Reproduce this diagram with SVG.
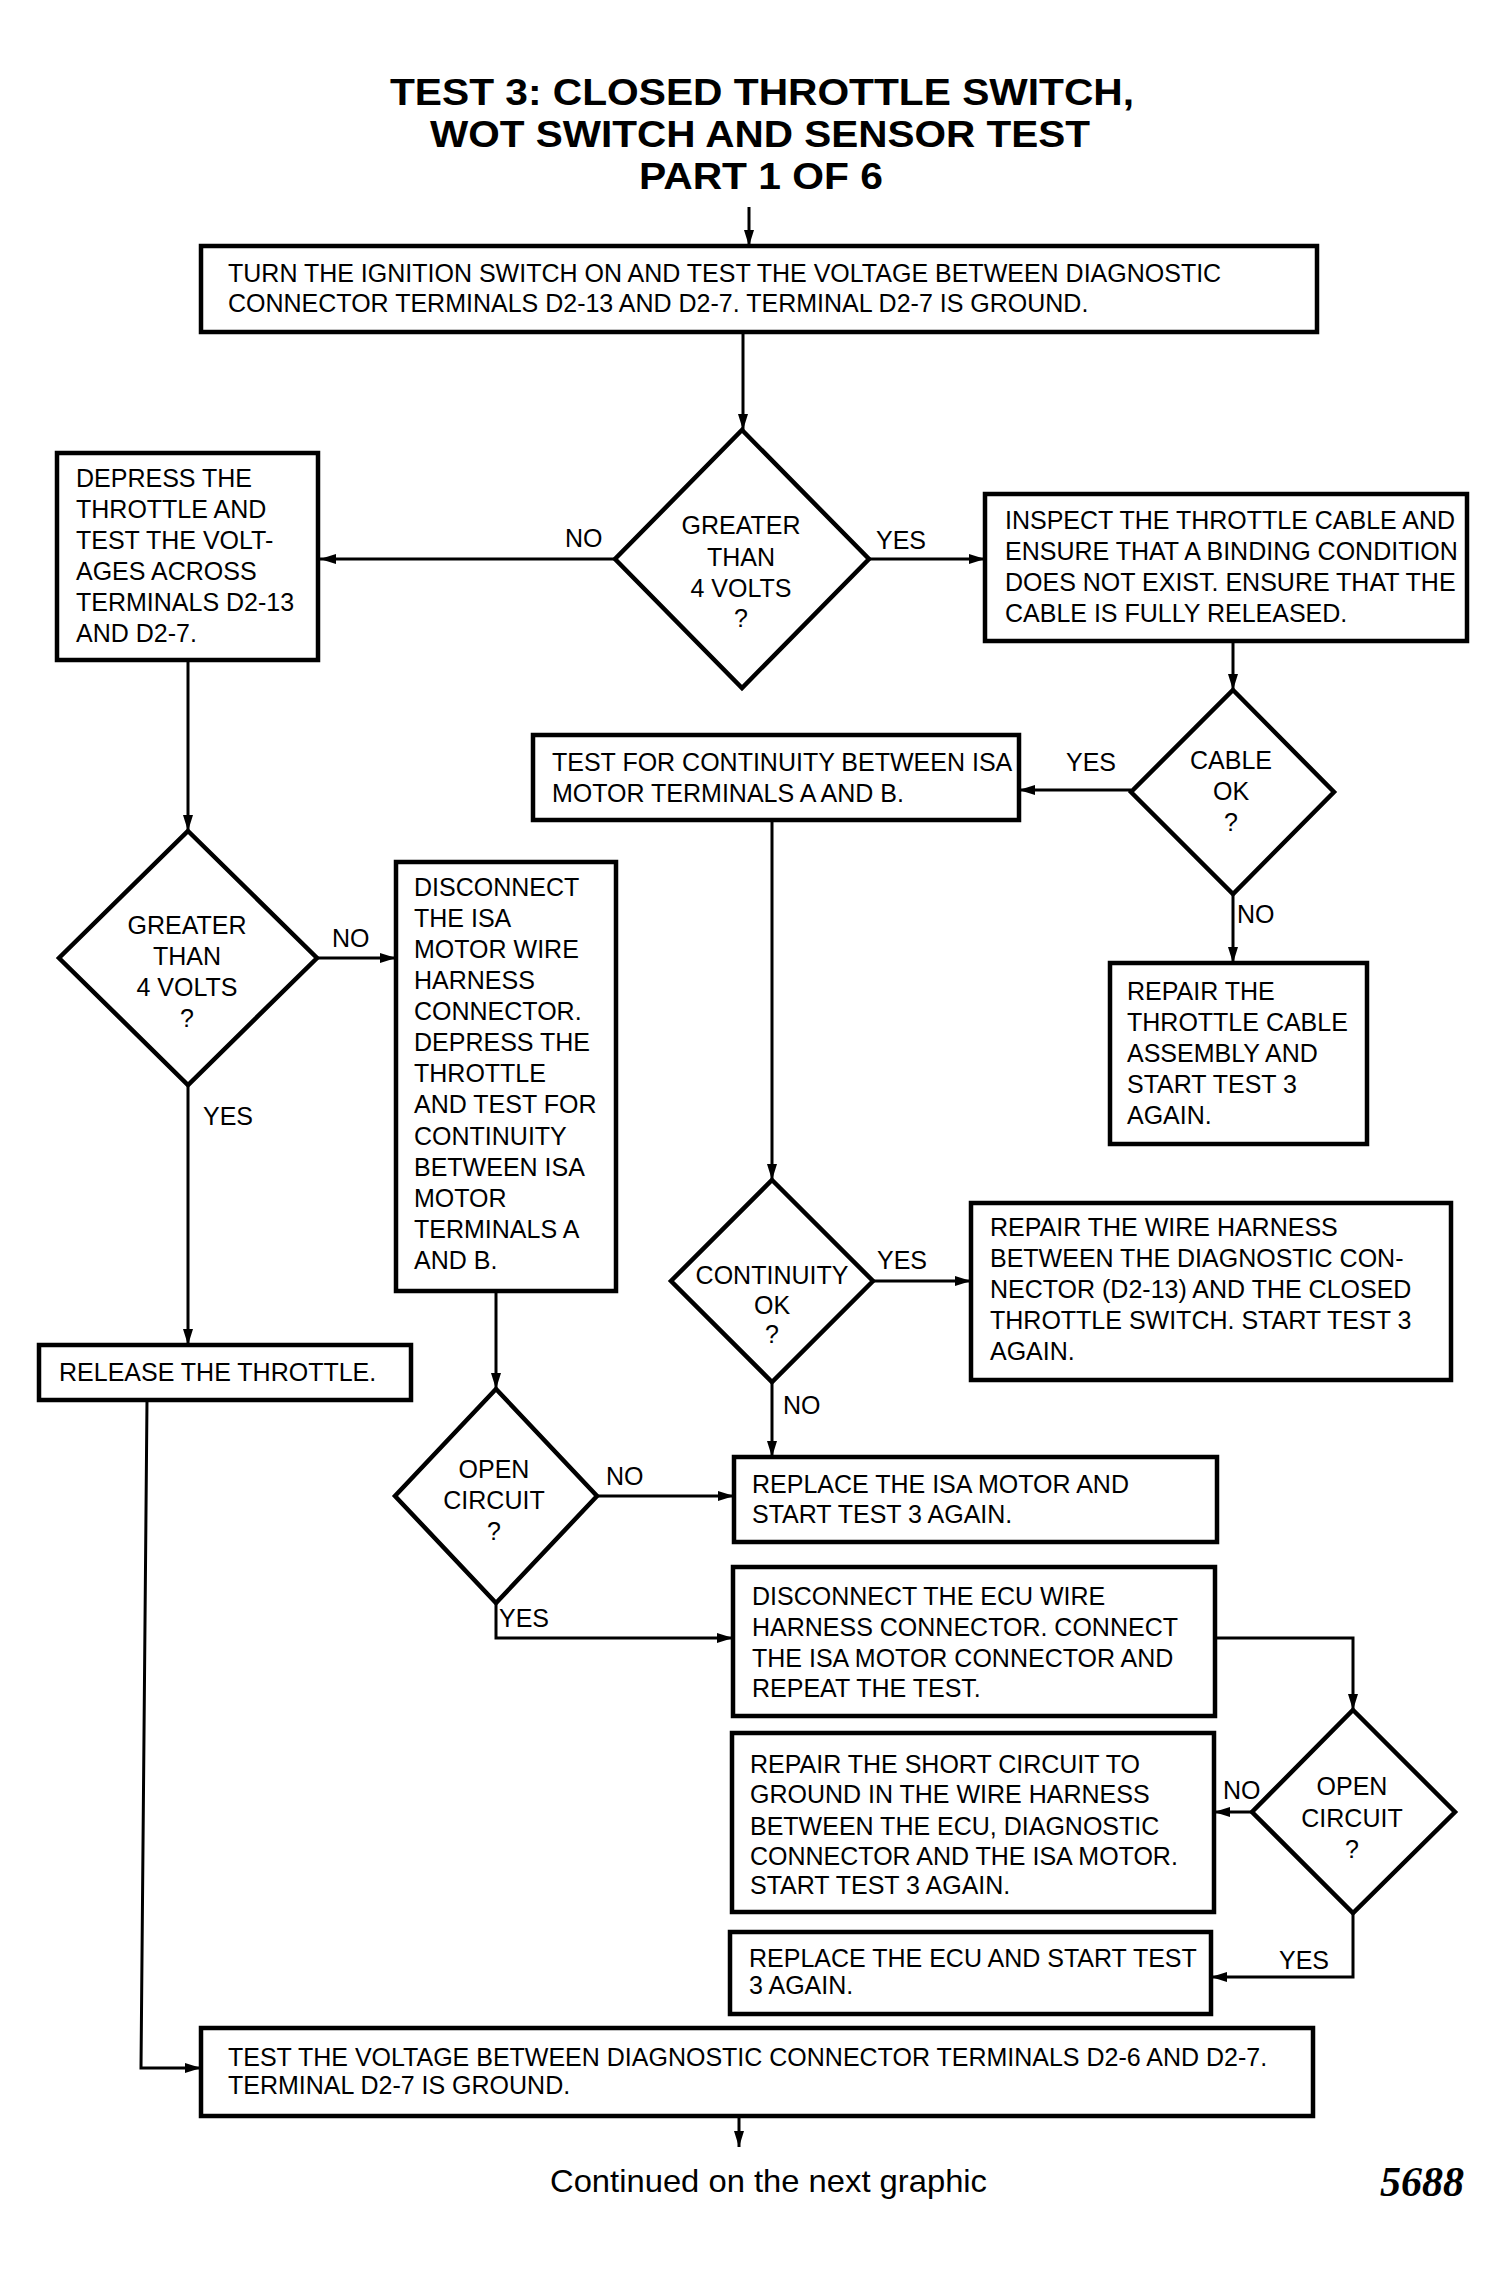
<svg xmlns="http://www.w3.org/2000/svg" width="1507" height="2273" viewBox="0 0 1507 2273">
<style>
.bx{fill:#fff;stroke:#000;stroke-width:4.5}
.dm{fill:#fff;stroke:#000;stroke-width:4.5;stroke-linejoin:miter}
.cn{fill:none;stroke:#000;stroke-width:3}
.t{font-family:"Liberation Sans",Arial,sans-serif;font-size:25px;fill:#000}
.c{text-anchor:middle}
.ttl{font-family:"Liberation Sans",Arial,sans-serif;font-weight:bold;font-size:37.5px;fill:#000;text-anchor:middle}
</style>
<defs>
<marker id="ah" markerUnits="userSpaceOnUse" markerWidth="16" markerHeight="10" refX="16" refY="5" orient="auto">
<path d="M0,0 L16,5 L0,10 Z" fill="#000"/>
</marker>
</defs>
<rect width="1507" height="2273" fill="#fff"/>
<g id="title">
<text class="ttl" x="762" y="105" textLength="744" lengthAdjust="spacingAndGlyphs">TEST 3: CLOSED THROTTLE SWITCH,</text>
<text class="ttl" x="760" y="147" textLength="660" lengthAdjust="spacingAndGlyphs">WOT SWITCH AND SENSOR TEST</text>
<text class="ttl" x="761" y="189" textLength="244" lengthAdjust="spacingAndGlyphs">PART 1 OF 6</text>
</g>
<g id="connectors">
<line class="cn" x1="749" y1="207" x2="749" y2="246" marker-end="url(#ah)"/>
<line class="cn" x1="743" y1="332" x2="743" y2="430" marker-end="url(#ah)"/>
<line class="cn" x1="615" y1="559" x2="320" y2="559" marker-end="url(#ah)"/>
<line class="cn" x1="869" y1="559" x2="985" y2="559" marker-end="url(#ah)"/>
<line class="cn" x1="188" y1="660" x2="188" y2="831" marker-end="url(#ah)"/>
<line class="cn" x1="1233" y1="641" x2="1233" y2="690" marker-end="url(#ah)"/>
<line class="cn" x1="1131" y1="790" x2="1019" y2="790" marker-end="url(#ah)"/>
<line class="cn" x1="1233" y1="894" x2="1233" y2="963" marker-end="url(#ah)"/>
<line class="cn" x1="772" y1="820" x2="772" y2="1180" marker-end="url(#ah)"/>
<line class="cn" x1="317" y1="958" x2="396" y2="958" marker-end="url(#ah)"/>
<line class="cn" x1="188" y1="1085" x2="188" y2="1345" marker-end="url(#ah)"/>
<line class="cn" x1="496" y1="1291" x2="496" y2="1389" marker-end="url(#ah)"/>
<line class="cn" x1="873" y1="1281" x2="971" y2="1281" marker-end="url(#ah)"/>
<line class="cn" x1="772" y1="1382" x2="772" y2="1457" marker-end="url(#ah)"/>
<line class="cn" x1="597" y1="1496" x2="734" y2="1496" marker-end="url(#ah)"/>
<polyline class="cn" points="496,1603 496,1638 733,1638" marker-end="url(#ah)"/>
<polyline class="cn" points="1215,1638 1353,1638 1353,1710" marker-end="url(#ah)"/>
<line class="cn" x1="1252" y1="1812" x2="1214" y2="1812" marker-end="url(#ah)"/>
<polyline class="cn" points="1353,1913 1353,1977 1211,1977" marker-end="url(#ah)"/>
<polyline class="cn" points="147,1400 141,2068 201,2068" marker-end="url(#ah)"/>
<line class="cn" x1="739" y1="2116" x2="739" y2="2147" marker-end="url(#ah)"/>
<text class="t" x="565" y="547">NO</text>
<text class="t" x="876" y="549">YES</text>
<text class="t" x="1066" y="771">YES</text>
<text class="t" x="1237" y="923">NO</text>
<text class="t" x="332" y="947">NO</text>
<text class="t" x="203" y="1125">YES</text>
<text class="t" x="877" y="1269">YES</text>
<text class="t" x="783" y="1414">NO</text>
<text class="t" x="606" y="1485">NO</text>
<text class="t" x="499" y="1627">YES</text>
<text class="t" x="1223" y="1799">NO</text>
<text class="t" x="1279" y="1969">YES</text>
</g>
<g id="n_start">
<rect class="bx" x="201" y="246" width="1116" height="86"/>
<text class="t" x="228" y="282">TURN THE IGNITION SWITCH ON AND TEST THE VOLTAGE BETWEEN DIAGNOSTIC</text>
<text class="t" x="228" y="312">CONNECTOR TERMINALS D2-13 AND D2-7. TERMINAL D2-7 IS GROUND.</text>
</g>
<g id="d_greater1">
<polygon class="dm" points="742,430 869,559 742,688 615,559"/>
<text class="t c" x="741" y="534">GREATER</text>
<text class="t c" x="741" y="566">THAN</text>
<text class="t c" x="741" y="597">4 VOLTS</text>
<text class="t c" x="741" y="627">?</text>
</g>
<g id="n_depress">
<rect class="bx" x="57" y="453" width="261" height="207"/>
<text class="t" x="76" y="487">DEPRESS THE</text>
<text class="t" x="76" y="518">THROTTLE AND</text>
<text class="t" x="76" y="549">TEST THE VOLT-</text>
<text class="t" x="76" y="580">AGES ACROSS</text>
<text class="t" x="76" y="611">TERMINALS D2-13</text>
<text class="t" x="76" y="642">AND D2-7.</text>
</g>
<g id="n_inspect">
<rect class="bx" x="985" y="494" width="482" height="147"/>
<text class="t" x="1005" y="529">INSPECT THE THROTTLE CABLE AND</text>
<text class="t" x="1005" y="560">ENSURE THAT A BINDING CONDITION</text>
<text class="t" x="1005" y="591">DOES NOT EXIST. ENSURE THAT THE</text>
<text class="t" x="1005" y="622">CABLE IS FULLY RELEASED.</text>
</g>
<g id="d_cable">
<polygon class="dm" points="1233,690 1334,792 1233,894 1131,792"/>
<text class="t c" x="1231" y="769">CABLE</text>
<text class="t c" x="1231" y="800">OK</text>
<text class="t c" x="1231" y="831">?</text>
</g>
<g id="n_testcont">
<rect class="bx" x="533" y="735" width="486" height="85"/>
<text class="t" x="552" y="771">TEST FOR CONTINUITY BETWEEN ISA</text>
<text class="t" x="552" y="802">MOTOR TERMINALS A AND B.</text>
</g>
<g id="n_repaircable">
<rect class="bx" x="1110" y="963" width="257" height="181"/>
<text class="t" x="1127" y="1000">REPAIR THE</text>
<text class="t" x="1127" y="1031">THROTTLE CABLE</text>
<text class="t" x="1127" y="1062">ASSEMBLY AND</text>
<text class="t" x="1127" y="1093">START TEST 3</text>
<text class="t" x="1127" y="1124">AGAIN.</text>
</g>
<g id="d_greater2">
<polygon class="dm" points="188,831 317,958 188,1085 59,958"/>
<text class="t c" x="187" y="934">GREATER</text>
<text class="t c" x="187" y="965">THAN</text>
<text class="t c" x="187" y="996">4 VOLTS</text>
<text class="t c" x="187" y="1027">?</text>
</g>
<g id="n_disconnectisa">
<rect class="bx" x="396" y="862" width="220" height="429"/>
<text class="t" x="414" y="896">DISCONNECT</text>
<text class="t" x="414" y="927">THE ISA</text>
<text class="t" x="414" y="958">MOTOR WIRE</text>
<text class="t" x="414" y="989">HARNESS</text>
<text class="t" x="414" y="1020">CONNECTOR.</text>
<text class="t" x="414" y="1051">DEPRESS THE</text>
<text class="t" x="414" y="1082">THROTTLE</text>
<text class="t" x="414" y="1113">AND TEST FOR</text>
<text class="t" x="414" y="1145">CONTINUITY</text>
<text class="t" x="414" y="1176">BETWEEN ISA</text>
<text class="t" x="414" y="1207">MOTOR</text>
<text class="t" x="414" y="1238">TERMINALS A</text>
<text class="t" x="414" y="1269">AND B.</text>
</g>
<g id="d_continuity">
<polygon class="dm" points="772,1180 873,1281 772,1382 671,1281"/>
<text class="t c" x="772" y="1284">CONTINUITY</text>
<text class="t c" x="772" y="1314">OK</text>
<text class="t c" x="772" y="1343">?</text>
</g>
<g id="n_repairwire">
<rect class="bx" x="971" y="1203" width="480" height="177"/>
<text class="t" x="990" y="1236">REPAIR THE WIRE HARNESS</text>
<text class="t" x="990" y="1267">BETWEEN THE DIAGNOSTIC CON-</text>
<text class="t" x="990" y="1298">NECTOR (D2-13) AND THE CLOSED</text>
<text class="t" x="990" y="1329">THROTTLE SWITCH. START TEST 3</text>
<text class="t" x="990" y="1360">AGAIN.</text>
</g>
<g id="n_release">
<rect class="bx" x="39" y="1345" width="372" height="55"/>
<text class="t" x="59" y="1381">RELEASE THE THROTTLE.</text>
</g>
<g id="d_open1">
<polygon class="dm" points="496,1389 597,1496 496,1603 395,1496"/>
<text class="t c" x="494" y="1478">OPEN</text>
<text class="t c" x="494" y="1509">CIRCUIT</text>
<text class="t c" x="494" y="1540">?</text>
</g>
<g id="n_replaceisa">
<rect class="bx" x="734" y="1457" width="483" height="85"/>
<text class="t" x="752" y="1493">REPLACE THE ISA MOTOR AND</text>
<text class="t" x="752" y="1523">START TEST 3 AGAIN.</text>
</g>
<g id="n_disconnectecu">
<rect class="bx" x="733" y="1567" width="482" height="149"/>
<text class="t" x="752" y="1605">DISCONNECT THE ECU WIRE</text>
<text class="t" x="752" y="1636">HARNESS CONNECTOR. CONNECT</text>
<text class="t" x="752" y="1667">THE ISA MOTOR CONNECTOR AND</text>
<text class="t" x="752" y="1697">REPEAT THE TEST.</text>
</g>
<g id="d_open2">
<polygon class="dm" points="1353,1710 1455,1812 1353,1913 1252,1812"/>
<text class="t c" x="1352" y="1795">OPEN</text>
<text class="t c" x="1352" y="1827">CIRCUIT</text>
<text class="t c" x="1352" y="1858">?</text>
</g>
<g id="n_repairshort">
<rect class="bx" x="732" y="1733" width="482" height="179"/>
<text class="t" x="750" y="1773">REPAIR THE SHORT CIRCUIT TO</text>
<text class="t" x="750" y="1803">GROUND IN THE WIRE HARNESS</text>
<text class="t" x="750" y="1835">BETWEEN THE ECU, DIAGNOSTIC</text>
<text class="t" x="750" y="1865">CONNECTOR AND THE ISA MOTOR.</text>
<text class="t" x="750" y="1894">START TEST 3 AGAIN.</text>
</g>
<g id="n_replaceecu">
<rect class="bx" x="730" y="1932" width="481" height="82"/>
<text class="t" x="749" y="1967">REPLACE THE ECU AND START TEST</text>
<text class="t" x="749" y="1994">3 AGAIN.</text>
</g>
<g id="n_final">
<rect class="bx" x="201" y="2028" width="1112" height="88"/>
<text class="t" x="228" y="2066">TEST THE VOLTAGE BETWEEN DIAGNOSTIC CONNECTOR TERMINALS D2-6 AND D2-7.</text>
<text class="t" x="228" y="2094">TERMINAL D2-7 IS GROUND.</text>
</g>
<g id="footer">
<text x="550" y="2192" style="font-family:'Liberation Sans',Arial,sans-serif;font-size:32px" textLength="437" lengthAdjust="spacingAndGlyphs">Continued on the next graphic</text>
<text x="1380" y="2196" style="font-family:'Liberation Serif','Times New Roman',serif;font-size:42px;font-weight:bold;font-style:italic">5688</text>
</g>
</svg>
